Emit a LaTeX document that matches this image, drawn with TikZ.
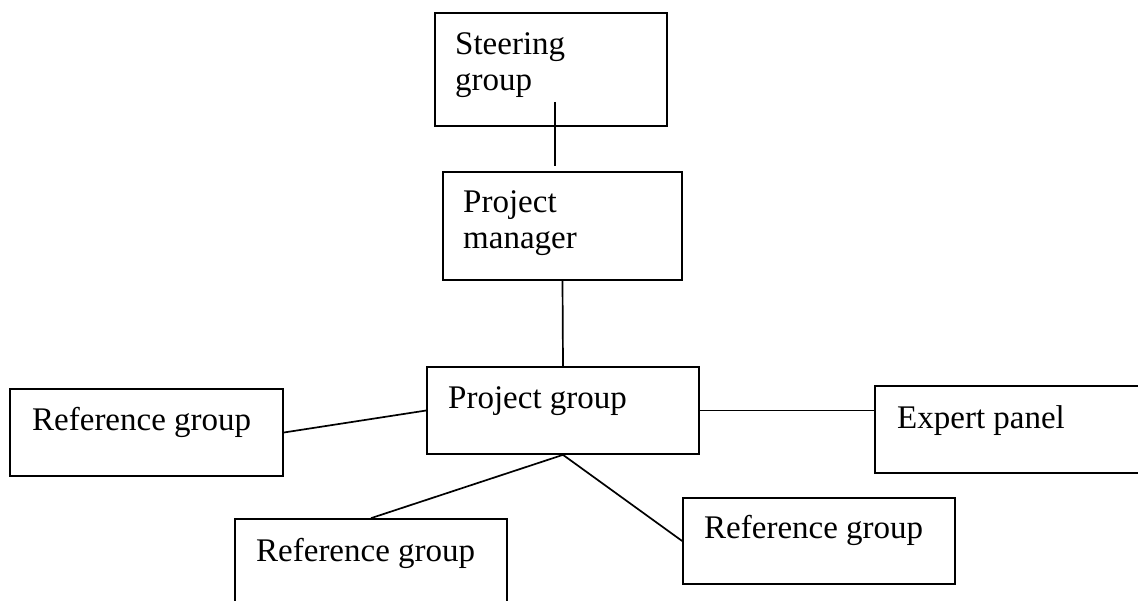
\documentclass[tikz,border=0pt]{standalone}
\usepackage{fontspec}
\setmainfont{Liberation Serif}
\begin{document}
\begin{tikzpicture}[x=1pt, y=-1pt,
    box/.style={draw, line width=1.7pt, inner sep=0pt},
    conn/.style={line width=1.7pt},
    txt/.style={anchor=base west, inner sep=0pt, align=left,
      font=\fontsize{33}{35.5}\selectfont}]

\useasboundingbox (0,0) rectangle (1138,600);
\clip (0,0) rectangle (1138,600);

% boxes ---
\node [box, minimum width=232pt, minimum height=113pt] (steer) at (551,69.5) {};
\node [box, minimum width=239pt, minimum height=108pt] (pm) at (562.5,226) {};
\node [box, minimum width=272pt, minimum height=87pt] (pg) at (563,410.5) {};
\node [box, minimum width=273pt, minimum height=87pt] (lref) at (146.5,432.5) {};
\node [box, minimum width=275pt, minimum height=87pt] (exp) at (1012.5,429.5) {};
\node [box, minimum width=272pt, minimum height=86pt] (rref) at (819,541) {};
\node [box, minimum width=272pt, minimum height=87pt] (bref) at (371,562.5) {};

% texts (base of last line) ---
\node [txt] (steertxt) at (455,90) {Steering\\group};
\node [txt] (pmtxt) at (463,248) {Project\\manager};
\node [txt] (pgtxt) at (448,408) {Project group};
\node [txt] (lreftxt) at (32,430) {Reference group};
\node [txt] (exptxt) at (897,428) {Expert panel};
\node [txt] (rreftxt) at (704,538) {Reference group};
\node [txt] (breftxt) at (256,561) {Reference group};

% lines ---
\draw [conn] ([xshift=4pt, yshift=25pt]steer.south) -- ([xshift=-7.5pt, yshift=5pt]pm.north);
\draw [conn] (pm.south) -- (pg.north);
\draw [conn] (lref.east) -- (pg.west);
\draw [conn] (pg.east) -- (pg.east -| exp.west);
\draw [conn] (pg.south) -- (bref.north);
\draw [conn] (pg.south) -- (rref.west);

\end{tikzpicture}
\end{document}
